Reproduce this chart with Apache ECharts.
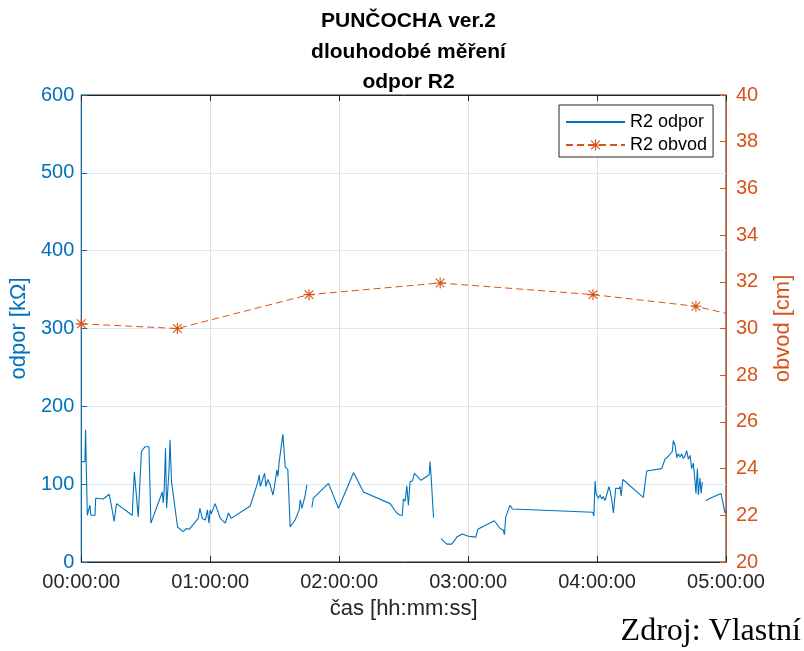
<!DOCTYPE html>
<html><head><meta charset="utf-8">
<script src="https://cdn.jsdelivr.net/npm/echarts@6/dist/echarts.min.js"></script>
<style>html,body{margin:0;padding:0;background:#fff}#c{width:804px;height:651px}</style>
</head><body><div id="c"></div>
<script>
// time in minutes from start
var odporTime = [0.1,1.7,2.0,2.8,4.0,4.5,6.4,6.7,10.2,13.0,
14.1,14.6,15.3,16.4,23.7,24.7,26.5,28.0,29.6,31.5,
32.4,37.7,38.1,38.6,39.2,39.7,40.8,41.3,41.7,42.0,
44.8,47.4,49.0,50.2,54.4,55.2,56.3,57.8,58.7,59.4,
60.0,60.5,62.3,64.7,67.0,68.5,69.8,78.6,82.2,82.8,
83.3,85.3,85.9,86.8,87.9,89.2,90.2,91.0,91.5,92.1,
93.8,94.9,96.1,97.2,99.5,101.4,101.9,102.7,104.2,105.0,
106.2,107.3,108.0,115.0,119.7,126.7,131.3,143.7,146.8,148.4,
149.4,149.9,150.7,151.5,152.2,153.0,154.1,155.0,158.1,161.9,
162.3,162.7,163.9,165.6,167.4,170.1,172.4,174.0,174.7,177.3,
180.1,183.6,184.5,192.2,194.9,196.4,196.9,197.5,199.5,200.6,
238.0,238.5,239.1,239.5,240.6,241.4,242.2,242.9,243.7,244.5,
245.6,246.8,247.6,248.7,249.2,249.6,250.2,250.7,251.2,252.0,
261.5,263.1,270.1,271.6,272.9,275.0,275.5,276.3,277.1,277.8,
278.6,279.4,280.1,280.9,281.7,282.5,283.3,284.0,284.8,285.6,
286.0,286.7,287.1,287.9,288.4,289.0,289.8,290.6,293.4,297.7,
299.5,300.5];
// resistance [kOhm]; null = gap in measurement
var odporValue = [129,129,170,60,73,60,60,82,81,87,
71,72,52,75,60,116,58,142,148,148,
50,90,76,92,146,69,116,157,157,103,
45,39,43,42,56,69,56,54,67,50,
67,62,75,56,50,63,56,72,103,112,
97,114,97,106,99,86,103,118,110,129,
164,122,119,45,54,67,80,69,86,99,
null,70,82,101,69,115,90,75,63,60,
60,81,78,98,73,103,104,114,105,112,
129,114,57,null,30,23,23,29,32,36,
33,32,42,53,43,41,35,58,73,68,
64,59,104,88,82,86,81,84,79,78,
97,81,63,95,93,95,94,97,85,106,
83,117,120,132,135,142,156,150,134,139,
135,139,133,136,143,132,137,120,127,103,
88,120,86,108,88,103,null,79,83,88,
63,66];
var obvodTime = [0, 44.7, 106.0, 167.0, 238.1, 286.0, 300];
var obvodValue = [30.2, 30.0, 31.45, 31.95, 31.45, 30.95, 30.65];

var BLUE = '#0072BD', ORANGE = '#D95319', DARK = '#262626';
var STAR = 'path://M9,0H11V20H9Z M0,9H20V11H0Z M1.4,2.8L2.8,1.4L18.6,17.2L17.2,18.6Z M17.2,1.4L18.6,2.8L2.8,18.6L1.4,17.2Z';

function pad(n){ return (n < 10 ? '0' : '') + n; }
function fmtTime(v){ var h = Math.floor(v/60), m = Math.round(v - h*60); return pad(h) + ':' + pad(m) + ':00'; }

var odporData = odporTime.map(function(t, i){ return [t, odporValue[i] === null ? '-' : odporValue[i]]; });
var obvodData = obvodTime.map(function(t, i){
  var item = { value: [t, obvodValue[i]] };
  if (t >= 300) item.symbol = 'none';
  return item;
});

var FONT = '"Liberation Sans", Arial, Helvetica, sans-serif';
var chart = echarts.init(document.getElementById('c'), null, {renderer: 'canvas'});
chart.setOption({
  animation: false,
  backgroundColor: '#fff',
  textStyle: { fontFamily: FONT },
  title: {
    text: 'PUNČOCHA ver.2\ndlouhodobé měření\nodpor R2',
    left: 403.5, top: 1, textAlign: 'center',
    textStyle: { fontFamily: FONT, fontSize: 21, fontWeight: 'bold', color: '#000', lineHeight: 30.5 }
  },
  legend: {
    orient: 'vertical', left: 559, top: 105,
    padding: [8, 6, 3, 6], itemGap: 5, itemWidth: 59, itemHeight: 14, itemTextGap: 5,
    backgroundColor: '#fff', borderColor: DARK, borderWidth: 1, borderRadius: 0,
    textStyle: { fontFamily: FONT, fontSize: 18, color: '#000', lineHeight: 18 },
    data: [{ name: 'R2 odpor', itemStyle: { opacity: 0, color: 'rgba(0,0,0,0)', borderWidth: 0 } }, 'R2 obvod']
  },
  grid: { left: 81, right: 78, top: 95, bottom: 89, show: true, borderColor: DARK, borderWidth: 1, backgroundColor: 'transparent' },
  xAxis: [{
    type: 'value', min: 0, max: 300, interval: 60, position: 'bottom',
    name: 'čas [hh:mm:ss]', nameLocation: 'middle', nameGap: 36,
    nameTextStyle: { fontFamily: FONT, fontSize: 22, color: DARK },
    axisLine: { show: true, onZero: false, lineStyle: { color: DARK, width: 1 } },
    axisTick: { show: true, inside: true, length: 6, lineStyle: { color: DARK } },
    axisLabel: { fontFamily: FONT, fontSize: 20, color: DARK, margin: 10, formatter: fmtTime },
    splitLine: { show: true, lineStyle: { color: '#dfdfdf', width: 1 } }
  }, {
    type: 'value', min: 0, max: 300, interval: 60, position: 'top',
    axisLine: { show: true, onZero: false, lineStyle: { color: DARK, width: 1 } },
    axisTick: { show: true, inside: true, length: 6, lineStyle: { color: DARK } },
    axisLabel: { show: false }, splitLine: { show: false }
  }],
  yAxis: [{
    type: 'value', min: 0, max: 600, interval: 100, position: 'left',
    name: 'odpor [kΩ]', nameLocation: 'middle', nameGap: 49, nameRotate: 90,
    nameTextStyle: { fontFamily: FONT, fontSize: 22, color: BLUE },
    axisLine: { show: true, onZero: false, lineStyle: { color: BLUE, width: 1 } },
    axisTick: { show: true, inside: true, length: 6, lineStyle: { color: BLUE } },
    axisLabel: { fontFamily: FONT, fontSize: 20, color: BLUE, margin: 7 },
    splitLine: { show: true, lineStyle: { color: '#d9eaf5', width: 1 } }
  }, {
    type: 'value', min: 20, max: 40, interval: 2, position: 'right',
    name: 'obvod [cm]', nameLocation: 'middle', nameGap: 46, nameRotate: 90,
    nameTextStyle: { fontFamily: FONT, fontSize: 22, color: ORANGE },
    axisLine: { show: true, onZero: false, lineStyle: { color: ORANGE, width: 1 } },
    axisTick: { show: true, inside: true, length: 6, lineStyle: { color: ORANGE } },
    axisLabel: { fontFamily: FONT, fontSize: 20, color: ORANGE, margin: 10 },
    splitLine: { show: false }
  }],
  series: [{
    name: 'R2 odpor', type: 'line', xAxisIndex: 0, yAxisIndex: 0,
    data: odporData, showSymbol: false, symbol: 'none', connectNulls: false,
    lineStyle: { color: BLUE, width: 1.1 }, itemStyle: { color: BLUE }, clip: true
  }, {
    name: 'R2 obvod', type: 'line', xAxisIndex: 0, yAxisIndex: 1,
    data: obvodData, symbol: STAR, symbolSize: 11, showSymbol: true,
    lineStyle: { color: ORANGE, width: 1, type: [7, 4] }, itemStyle: { color: ORANGE }, clip: true
  }],
  graphic: [{
    type: 'text', right: 3, top: 616,
    style: { text: 'Zdroj: Vlastní', font: '32px "Liberation Serif", "Times New Roman", serif', fill: '#000' }
  }]
});
</script></body></html>
